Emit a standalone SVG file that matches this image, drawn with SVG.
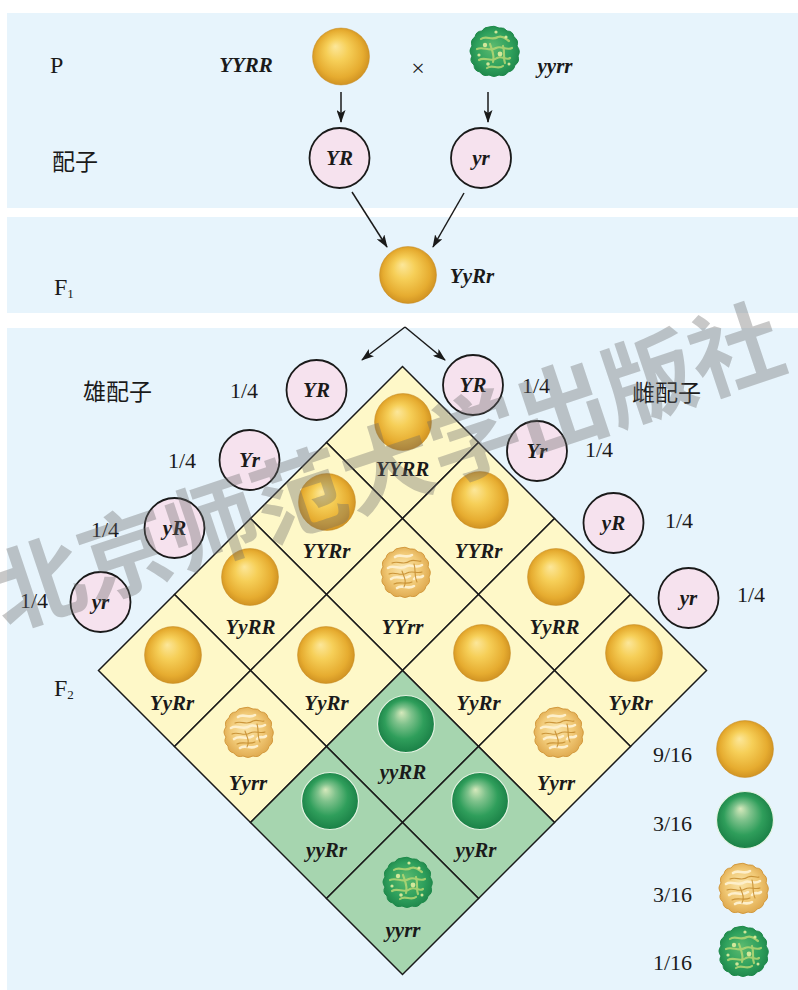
<svg xmlns="http://www.w3.org/2000/svg" width="798" height="990" viewBox="0 0 798 990">
  <style>
    .panel { fill: #E7F4FC; }
    .cell-y { fill: #FEF8C8; stroke: #1a1a1a; stroke-width: 1.5; stroke-linejoin: miter; }
    .cell-g { fill: #A6D5AF; stroke: #1a1a1a; stroke-width: 1.5; stroke-linejoin: miter; }
    .geno { font-family: "Liberation Serif", serif; font-style: italic; font-weight: bold; font-size: 21px; fill: #1a1a1a; text-anchor: middle; }
    .lab { font-family: "Liberation Serif", "Noto Sans CJK SC", serif; font-size: 24px; fill: #1a1a1a; }
    .cjk { font-family: "Noto Sans CJK SC", sans-serif; font-size: 23px; fill: #1a1a1a; }
    .frac { font-family: "Liberation Serif", serif; font-size: 22px; fill: #1a1a1a; }
    .gam { fill: #F6E2EE; stroke: #1a1a1a; stroke-width: 1.8; }
    .link { stroke: #1a1a1a; stroke-width: 1.5; fill: none; marker-end: url(#arrow); }
    .wm { font-family: "Noto Sans CJK SC", sans-serif; font-weight: bold; font-size: 92px; fill: #6a6a6a; opacity: 0.36; }
  </style>
  <defs>
    <marker id="arrow" viewBox="0 0 13 9" refX="12" refY="4.5" markerWidth="13" markerHeight="9" markerUnits="userSpaceOnUse" orient="auto">
      <path d="M0,0 L13,4.5 L0,9 L3,4.5 Z" fill="#1a1a1a"/>
    </marker>
    <radialGradient id="gy" cx="0.5" cy="0.5" r="0.55" fx="0.4" fy="0.32">
      <stop offset="0" stop-color="#FCE79A"/>
      <stop offset="0.35" stop-color="#F6CF58"/>
      <stop offset="0.75" stop-color="#E6AC30"/>
      <stop offset="1" stop-color="#C98A1E"/>
    </radialGradient>
    <radialGradient id="gg" cx="0.5" cy="0.5" r="0.55" fx="0.42" fy="0.3">
      <stop offset="0" stop-color="#D6E9BC"/>
      <stop offset="0.28" stop-color="#7FC28C"/>
      <stop offset="0.62" stop-color="#2F9E5B"/>
      <stop offset="1" stop-color="#167A42"/>
    </radialGradient>
    <radialGradient id="gwy" cx="0.5" cy="0.5" r="0.6" fx="0.42" fy="0.38">
      <stop offset="0" stop-color="#FAE4A8"/>
      <stop offset="0.55" stop-color="#F1C976"/>
      <stop offset="1" stop-color="#D99F42"/>
    </radialGradient>
    <radialGradient id="gwg" cx="0.5" cy="0.5" r="0.6" fx="0.45" fy="0.4">
      <stop offset="0" stop-color="#5DBB70"/>
      <stop offset="0.6" stop-color="#2EA05C"/>
      <stop offset="1" stop-color="#1A7E45"/>
    </radialGradient>
    <!-- smooth yellow seed -->
    <g id="pea-y">
      <circle r="28.5" fill="url(#gy)"/>
      <circle r="28.5" fill="none" stroke="#C48A22" stroke-width="0.8" opacity="0.6"/>
    </g>
    <!-- smooth green seed -->
    <g id="pea-g">
      <circle r="28.5" fill="url(#gg)" stroke="#E4F3E2" stroke-width="1.2"/>
    </g>
    <!-- wrinkled seed outline: lumpy, slightly angular -->
    <path id="wr-shape" d="M-5,-25 Q0,-27 5,-24 Q10,-25 13,-21 Q19,-21 20,-15 Q25,-12 23,-6 Q27,-1 24,4 Q26,10 21,13 Q20,19 14,20 Q11,25 5,23 Q0,26 -5,23 Q-11,25 -14,20 Q-20,19 -20,13 Q-25,9 -22,4 Q-26,-1 -22,-6 Q-24,-12 -19,-15 Q-18,-21 -12,-21 Q-10,-25 -5,-25 Z"/>
    <!-- wrinkled yellow seed -->
    <g id="wr-y">
      <use href="#wr-shape" fill="url(#gwy)" stroke="#D39A3E" stroke-width="1"/>
      <g fill="none" stroke="#FDEFCB" stroke-width="2.6" stroke-linecap="round">
        <path d="M-10,-16 C-5,-20 1,-14 7,-18"/>
        <path d="M-17,-5 C-11,-9 -5,-2 2,-7 C6,-9 11,-4 17,-8"/>
        <path d="M-14,6 C-8,1 -2,8 5,3"/>
        <path d="M9,6 C12,2 15,6 18,3"/>
        <path d="M-8,15 C-3,11 3,17 9,13"/>
      </g>
      <g fill="none" stroke="#C48A2C" stroke-width="1.1" stroke-linecap="round" opacity="0.85">
        <path d="M-13,-10 C-7,-13 -1,-7 5,-12 C9,-14 13,-11 16,-12"/>
        <path d="M-16,1 C-10,-2 -4,4 2,0 C7,-3 12,1 17,-1"/>
        <path d="M-11,11 C-5,8 1,12 7,9"/>
        <path d="M-3,-2 C-1,4 2,8 -1,14"/>
        <path d="M9,-9 C11,-3 9,3 12,9"/>
      </g>
    </g>
    <!-- wrinkled green seed -->
    <g id="wr-g">
      <use href="#wr-shape" fill="url(#gwg)" stroke="#1E8A4A" stroke-width="1"/>
      <g fill="none" stroke="#B6D774" stroke-width="2.2" stroke-linecap="round" opacity="0.85">
        <path d="M-13,-13 C-8,-17 -2,-11 4,-15 C9,-17 12,-13 15,-11"/>
        <path d="M-17,-3 C-11,-6 -4,0 2,-4 C7,-7 12,-1 18,-4"/>
        <path d="M-15,8 C-9,4 -3,11 3,6 C8,3 12,9 16,6"/>
        <path d="M-7,16 C-2,12 4,18 9,14"/>
        <path d="M-4,-8 C-2,-2 1,4 -1,10"/>
        <path d="M9,-6 C11,0 9,6 11,11"/>
      </g>
      <g fill="#E2EEA0" opacity="0.9">
        <circle cx="-9" cy="-7" r="2.2"/>
        <circle cx="6" cy="2" r="2.4"/>
        <circle cx="-6" cy="12" r="1.8"/>
        <circle cx="12" cy="-15" r="1.6"/>
        <circle cx="-15" cy="3" r="1.6"/>
        <circle cx="2" cy="-20" r="1.6"/>
        <circle cx="15" cy="12" r="1.5"/>
      </g>
    </g>
  </defs>

  <rect width="798" height="990" fill="#ffffff"/>

  <!-- section backgrounds -->
  <rect class="panel" x="7" y="13" width="791" height="195"/>
  <rect class="panel" x="7" y="217" width="791" height="96"/>
  <rect class="panel" x="7" y="328" width="791" height="662"/>

  <!-- row labels -->
  <g id="row-labels">
    <text class="lab" x="50" y="73">P</text>
    <text class="cjk" x="52" y="170">配子</text>
    <text class="lab" x="54" y="295">F<tspan font-size="13" dy="3">1</tspan></text>
    <text class="lab" x="54" y="696">F<tspan font-size="13" dy="3">2</tspan></text>
  </g>

  <!-- parents -->
  <g id="parent-dominant">
    <text class="geno" x="246" y="72">YYRR</text>
    <use href="#pea-y" transform="translate(341,56.5)"/>
  </g>
  <g id="cross-sign">
    <text class="lab" x="418" y="76" text-anchor="middle" font-size="20">×</text>
  </g>
  <g id="parent-recessive">
    <use href="#wr-g" transform="translate(494,52)"/>
    <text class="geno" x="555" y="73">yyrr</text>
  </g>

  <!-- parental gametes -->
  <g id="gamete-YR">
    <circle class="gam" cx="339.5" cy="158" r="30"/>
    <text class="geno" x="339.5" y="165">YR</text>
  </g>
  <g id="gamete-yr">
    <circle class="gam" cx="481" cy="158" r="30"/>
    <text class="geno" x="481" y="165">yr</text>
  </g>

  <!-- F1 -->
  <g id="f1">
    <use href="#pea-y" transform="translate(408,275)"/>
    <text class="geno" x="472" y="283">YyRr</text>
  </g>

  <!-- male gametes (left edge of the grid) -->
  <g id="male-gametes">
    <text class="cjk" x="83" y="400">雄配子</text>
    <g id="m-YR"><circle class="gam" cx="316.5" cy="390" r="30"/><text class="geno" x="316.5" y="397">YR</text><text class="frac" x="230" y="398">1/4</text></g>
    <g id="m-Yr"><circle class="gam" cx="249.5" cy="460" r="30"/><text class="geno" x="249.5" y="467">Yr</text><text class="frac" x="168" y="468">1/4</text></g>
    <g id="m-yR"><circle class="gam" cx="174.5" cy="528" r="30"/><text class="geno" x="174.5" y="535">yR</text><text class="frac" x="91" y="537">1/4</text></g>
    <g id="m-yr"><circle class="gam" cx="100.5" cy="602" r="30"/><text class="geno" x="100.5" y="609">yr</text><text class="frac" x="20" y="608">1/4</text></g>
  </g>

  <!-- female gametes (right edge of the grid) -->
  <g id="female-gametes">
    <text class="cjk" x="632" y="401">雌配子</text>
    <g id="f-YR"><circle class="gam" cx="473" cy="385" r="30"/><text class="geno" x="473" y="392">YR</text><text class="frac" x="522" y="393">1/4</text></g>
    <g id="f-Yr"><circle class="gam" cx="537" cy="451" r="30"/><text class="geno" x="537" y="458">Yr</text><text class="frac" x="585" y="457">1/4</text></g>
    <g id="f-yR"><circle class="gam" cx="613.5" cy="523" r="30"/><text class="geno" x="613.5" y="530">yR</text><text class="frac" x="665" y="528">1/4</text></g>
    <g id="f-yr"><circle class="gam" cx="688.5" cy="598" r="30"/><text class="geno" x="688.5" y="605">yr</text><text class="frac" x="737" y="602">1/4</text></g>
  </g>

  <!-- F2 grid, rotated 45 degrees -->
  <g id="f2-grid">
    <g id="c00"><polygon class="cell-y" points="402.5,366.5 478.5,442.5 402.5,518.5 326.5,442.5"/><use href="#pea-y" transform="translate(403,422)"/><text class="geno" x="402.5" y="476">YYRR</text></g>
    <g id="c01"><polygon class="cell-y" points="478.5,442.5 554.5,518.5 478.5,594.5 402.5,518.5"/><use href="#pea-y" transform="translate(480,500)"/><text class="geno" x="478.5" y="558">YYRr</text></g>
    <g id="c10"><polygon class="cell-y" points="326.5,442.5 402.5,518.5 326.5,594.5 250.5,518.5"/><use href="#pea-y" transform="translate(327,502)"/><text class="geno" x="326.5" y="558">YYRr</text></g>
    <g id="c11"><polygon class="cell-y" points="402.5,518.5 478.5,594.5 402.5,670.5 326.5,594.5"/><use href="#wr-y" transform="translate(405,573)"/><text class="geno" x="402.5" y="634">YYrr</text></g>
    <g id="c02"><polygon class="cell-y" points="554.5,518.5 630.5,594.5 554.5,670.5 478.5,594.5"/><use href="#pea-y" transform="translate(556,577)"/><text class="geno" x="554.5" y="634">YyRR</text></g>
    <g id="c20"><polygon class="cell-y" points="250.5,518.5 326.5,594.5 250.5,670.5 174.5,594.5"/><use href="#pea-y" transform="translate(250,577)"/><text class="geno" x="250.5" y="634">YyRR</text></g>
    <g id="c03"><polygon class="cell-y" points="630.5,594.5 706.5,670.5 630.5,746.5 554.5,670.5"/><use href="#pea-y" transform="translate(634,653)"/><text class="geno" x="630.5" y="710">YyRr</text></g>
    <g id="c30"><polygon class="cell-y" points="174.5,594.5 250.5,670.5 174.5,746.5 98.5,670.5"/><use href="#pea-y" transform="translate(173,655)"/><text class="geno" x="172" y="710">YyRr</text></g>
    <g id="c12"><polygon class="cell-y" points="478.5,594.5 554.5,670.5 478.5,746.5 402.5,670.5"/><use href="#pea-y" transform="translate(482,653)"/><text class="geno" x="478.5" y="710">YyRr</text></g>
    <g id="c21"><polygon class="cell-y" points="326.5,594.5 402.5,670.5 326.5,746.5 250.5,670.5"/><use href="#pea-y" transform="translate(326,655)"/><text class="geno" x="326.5" y="710">YyRr</text></g>
    <g id="c13"><polygon class="cell-y" points="554.5,670.5 630.5,746.5 554.5,822.5 478.5,746.5"/><use href="#wr-y" transform="translate(558,733)"/><text class="geno" x="556" y="790">Yyrr</text></g>
    <g id="c31"><polygon class="cell-y" points="250.5,670.5 326.5,746.5 250.5,822.5 174.5,746.5"/><use href="#wr-y" transform="translate(248,733)"/><text class="geno" x="248" y="790">Yyrr</text></g>
    <g id="c22"><polygon class="cell-g" points="402.5,670.5 478.5,746.5 402.5,822.5 326.5,746.5"/><use href="#pea-g" transform="translate(406,724)"/><text class="geno" x="403" y="779">yyRR</text></g>
    <g id="c23"><polygon class="cell-g" points="478.5,746.5 554.5,822.5 478.5,898.5 402.5,822.5"/><use href="#pea-g" transform="translate(480,801)"/><text class="geno" x="476" y="857">yyRr</text></g>
    <g id="c32"><polygon class="cell-g" points="326.5,746.5 402.5,822.5 326.5,898.5 250.5,822.5"/><use href="#pea-g" transform="translate(330,801)"/><text class="geno" x="326.5" y="857">yyRr</text></g>
    <g id="c33"><polygon class="cell-g" points="402.5,822.5 478.5,898.5 402.5,974.5 326.5,898.5"/><use href="#wr-g" transform="translate(407,883)"/><text class="geno" x="403" y="937">yyrr</text></g>
  </g>

  <!-- phenotype ratios -->
  <g id="legend">
    <g id="ratio-yellow-round"><text class="frac" x="653" y="762" font-size="24">9/16</text><use href="#pea-y" transform="translate(745,749)"/></g>
    <g id="ratio-green-round"><text class="frac" x="653" y="831" font-size="24">3/16</text><use href="#pea-g" transform="translate(745,820)"/></g>
    <g id="ratio-yellow-wrinkled"><text class="frac" x="653" y="902" font-size="24">3/16</text><use href="#wr-y" transform="translate(743,889)"/></g>
    <g id="ratio-green-wrinkled"><text class="frac" x="653" y="970" font-size="24">1/16</text><use href="#wr-g" transform="translate(743,952)"/></g>
  </g>

  <!-- connectors -->
  <g id="connectors">
    <line class="link" x1="341" y1="92" x2="341" y2="122"/>
    <line class="link" x1="488" y1="92" x2="488" y2="122"/>
    <line class="link" x1="352" y1="192" x2="387" y2="247"/>
    <line class="link" x1="464" y1="193" x2="433" y2="247"/>
    <line class="link" x1="405" y1="327" x2="362" y2="360"/>
    <line class="link" x1="405" y1="327" x2="445" y2="360"/>
  </g>

  <!-- publisher mark -->
  <text class="wm" transform="translate(5,630) rotate(-18.5)">北京师范大学出版社</text>
</svg>
